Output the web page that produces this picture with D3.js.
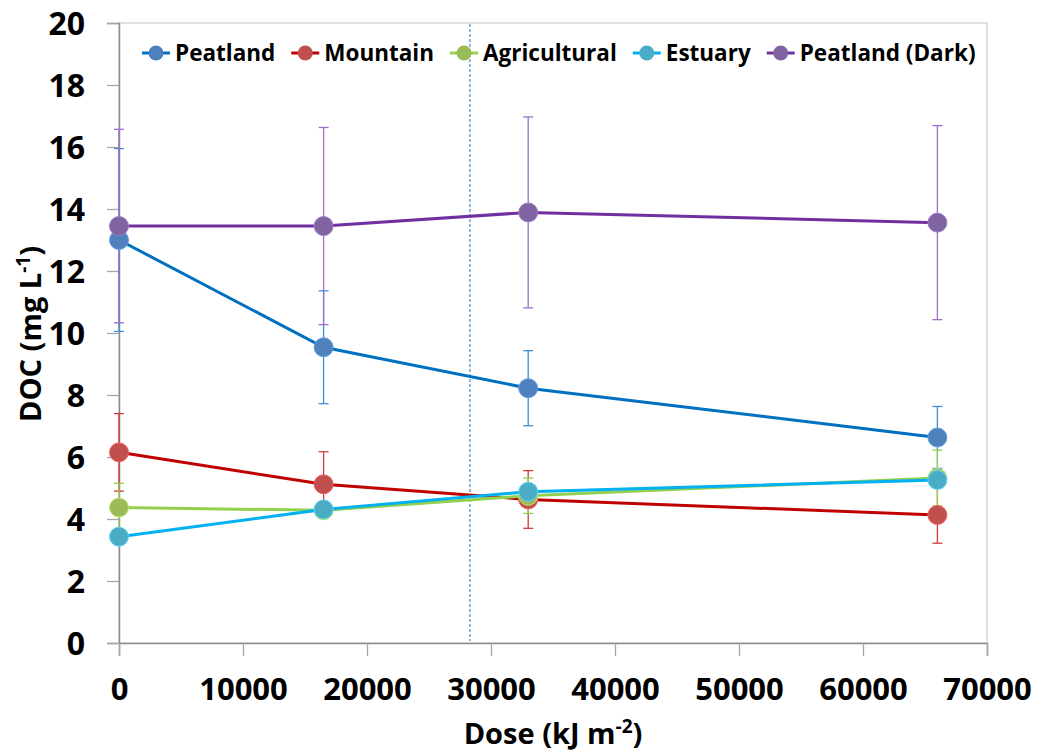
<!DOCTYPE html>
<html>
<head>
<meta charset="utf-8">
<script src="https://cdn.jsdelivr.net/npm/d3@7/dist/d3.min.js"></script>
<style>
  html, body { margin: 0; padding: 0; background: #ffffff; }
  svg { display: block; }
  text { font-family: "Open Sans", "Liberation Sans", sans-serif; font-weight: 700; fill: #000; }
</style>
</head>
<body>
<svg id="chart" width="1041" height="754"></svg>
<script>
// Irradiation doses (kJ m-2)
const doses = [0, 16500, 33000, 66000];

// Series names, in drawing order
const seriesNames = ["Peatland", "Mountain", "Agricultural", "Estuary", "Peatland (Dark)"];

// Mean DOC (mg L-1) per dose
const peatland     = [13.0, 9.54, 8.22, 6.63];
const mountain     = [6.15, 5.12, 4.63, 4.13];
const agricultural = [4.37, 4.28, 4.75, 5.32];
const estuary      = [3.43, 4.31, 4.88, 5.26];
const peatlandDark = [13.45, 13.45, 13.89, 13.56];

// Standard deviations
const peatlandErr     = [2.95, 1.82, 1.21, 1.0];
const mountainErr     = [1.25, 1.05, 0.93, 0.91];
const agriculturalErr = [0.78, 0.25, 0.57, 0.9];
const estuaryErr      = [0.25, 0.2, 0.2, 0.25];
const peatlandDarkErr = [3.12, 3.18, 3.08, 3.13];

// Axis ticks
const xTicks = [0, 10000, 20000, 30000, 40000, 50000, 60000, 70000];
const yTicks = [0, 2, 4, 6, 8, 10, 12, 14, 16, 18, 20];

// Dose marking the dashed reference line
const referenceDose = [28300];

const styles = [
  { line: "#0070c0", marker: "#4f81bd", err: "#3d8fd6" },
  { line: "#c00000", marker: "#c0504d", err: "#d03a3a" },
  { line: "#92d050", marker: "#9bbb59", err: "#92d050" },
  { line: "#00b0f0", marker: "#4bacc6", err: "#2fb4e8" },
  { line: "#7030a0", marker: "#8064a2", err: "#9b6fcb" }
];

const values = [peatland, mountain, agricultural, estuary, peatlandDark];
const errors = [peatlandErr, mountainErr, agriculturalErr, estuaryErr, peatlandDarkErr];

const series = seriesNames.map((name, i) => ({
  name,
  style: styles[i],
  points: doses.map((d, j) => ({ x: d, y: values[i][j], e: errors[i][j] }))
}));

const svg = d3.select("#chart");
const plot = { left: 119, right: 987, top: 23, bottom: 643 };

const x = d3.scaleLinear().domain([0, 70000]).range([plot.left, plot.right]);
const y = d3.scaleLinear().domain([0, 20]).range([plot.bottom, plot.top]);

// Plot-area frame
svg.append("rect")
  .attr("x", plot.left).attr("y", plot.top)
  .attr("width", plot.right - plot.left).attr("height", plot.bottom - plot.top)
  .attr("fill", "none").attr("stroke", "#d9d9d9").attr("stroke-width", 1.5);

// Y axis
const yAxis = svg.append("g").attr("transform", `translate(${plot.left},0)`)
  .call(d3.axisLeft(y).tickValues(yTicks).tickSize(12).tickPadding(22).tickFormat(d3.format("d")));
yAxis.select(".domain").attr("stroke", "#8c8c8c").attr("stroke-width", 1.5);
yAxis.selectAll(".tick line").attr("stroke", "#a6a6a6").attr("stroke-width", 1.3);
yAxis.selectAll(".tick text")
  .attr("font-size", 32).attr("font-weight", 800)
  .attr("font-family", '"Open Sans", sans-serif').attr("fill", "#000")
  .attr("dy", "0.36em");

// X axis
const xAxis = svg.append("g").attr("transform", `translate(0,${plot.bottom})`)
  .call(d3.axisBottom(x).tickValues(xTicks).tickSize(13).tickPadding(22).tickFormat(d3.format("d")));
xAxis.select(".domain").attr("stroke", "#8c8c8c").attr("stroke-width", 1.5);
xAxis.selectAll(".tick line").attr("stroke", "#a6a6a6").attr("stroke-width", 1.3);
xAxis.selectAll(".tick text")
  .attr("font-size", 31).attr("font-weight", 700)
  .attr("font-family", '"Open Sans", sans-serif').attr("fill", "#000")
  .attr("dy", "0.71em");

// Dashed reference line
svg.selectAll("line.ref").data(referenceDose).join("line")
  .attr("class", "ref")
  .attr("x1", d => x(d)).attr("x2", d => x(d))
  .attr("y1", plot.top + 1).attr("y2", plot.bottom - 2)
  .attr("stroke", "#5b9bd5").attr("stroke-width", 1.4)
  .attr("stroke-dasharray", "3,2");

// Error bars
const capW = 5;
series.forEach(s => {
  const g = svg.append("g").attr("stroke", s.style.err).attr("stroke-width", 1.3).attr("fill", "none");
  s.points.forEach(p => {
    g.append("line").attr("x1", x(p.x)).attr("x2", x(p.x)).attr("y1", y(p.y + p.e)).attr("y2", y(p.y - p.e));
    g.append("line").attr("x1", x(p.x) - capW).attr("x2", x(p.x) + capW).attr("y1", y(p.y + p.e)).attr("y2", y(p.y + p.e));
    g.append("line").attr("x1", x(p.x) - capW).attr("x2", x(p.x) + capW).attr("y1", y(p.y - p.e)).attr("y2", y(p.y - p.e));
  });
});

// Lines and markers
const line = d3.line().x(d => x(d.x)).y(d => y(d.y));
series.forEach(s => {
  svg.append("path").datum(s.points)
    .attr("d", line).attr("fill", "none")
    .attr("stroke", s.style.line).attr("stroke-width", 3);
  svg.append("g").selectAll("circle").data(s.points).join("circle")
    .attr("cx", d => x(d.x)).attr("cy", d => y(d.y)).attr("r", 9.5)
    .attr("fill", s.style.marker)
    .attr("stroke", d3.color(s.style.marker).brighter(0.6)).attr("stroke-width", 1);
});

// Legend
const legend = svg.append("g");
let lx = 142;
const ly = 53;
series.forEach(s => {
  const g = legend.append("g");
  g.append("line").attr("x1", lx).attr("x2", lx + 28).attr("y1", ly).attr("y2", ly)
    .attr("stroke", s.style.line).attr("stroke-width", 3);
  g.append("circle").attr("cx", lx + 14).attr("cy", ly).attr("r", 7.5)
    .attr("fill", s.style.marker);
  const t = g.append("text").attr("x", lx + 33).attr("y", ly + 8)
    .attr("font-size", 22.5).text(s.name);
  lx = lx + 33 + t.node().getComputedTextLength() + 16;
});

// Axis titles
const xt = svg.append("text").attr("x", 553).attr("y", 744)
  .attr("text-anchor", "middle").attr("font-size", 29);
xt.append("tspan").text("Dose (kJ m");
xt.append("tspan").attr("font-size", 19).attr("dy", -11).text("-2");
xt.append("tspan").attr("dy", 11).text(")");

const yt = svg.append("text").attr("transform", "translate(41,334) rotate(-90)")
  .attr("text-anchor", "middle").attr("font-size", 29);
yt.append("tspan").text("DOC (mg L");
yt.append("tspan").attr("font-size", 19).attr("dy", -11).text("-1");
yt.append("tspan").attr("dy", 11).text(")");
</script>
</body>
</html>
